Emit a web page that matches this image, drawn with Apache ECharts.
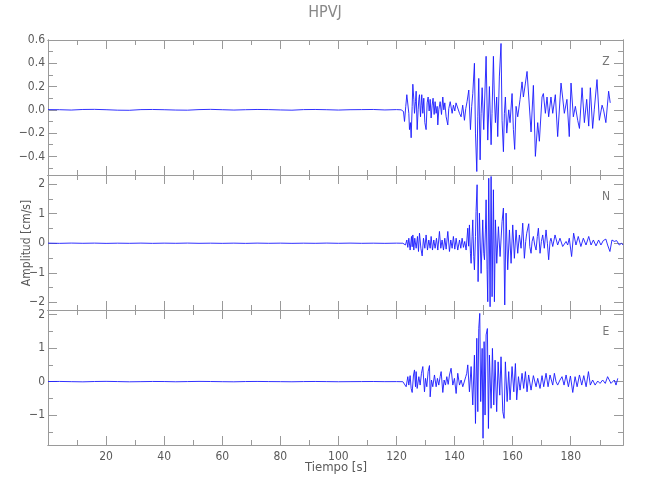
<!DOCTYPE html>
<html><head><meta charset="utf-8">
<script src="https://cdn.jsdelivr.net/npm/echarts@6/dist/echarts.min.js"></script>
<style>html,body{margin:0;padding:0;background:#fff}#c{width:650px;height:500px}</style>
</head><body><div id="c"></div>
<script>
const chartTitle = 'HPVJ';
const yTitle = 'Amplitud [cm/s]';
const xTitle = 'Tiempo [s]';
const panelNames = ['Z', 'N', 'E'];

const quietTime = [0,4,8,12,16,20,24,28,32,36,40,44,48,52,56,60,64,68,72,76,80,84,88,92,96,100,104,108,112,116,120];
const zQuiet = [0.002,0.001,-0.002,0.003,0.004,0.001,-0.003,-0.004,0.002,0.003,0.001,-0.002,-0.003,0.002,0.004,0.001,-0.002,0.001,0.003,0.002,-0.001,-0.003,0.002,0.003,0.001,-0.002,0.001,0.002,0.003,-0.001,0.002];
const nQuiet = [0.003,-0.004,0.005,-0.002,0.004,-0.005,0.002,-0.003,0.004,-0.004,0.003,-0.002,0.005,-0.003,0.002,-0.004,0.003,-0.005,0.004,-0.002,0.003,-0.004,0.002,-0.003,0.005,-0.002,0.004,-0.003,0.002,-0.004,0.003];
const eQuiet = [0.005,0.008,0.002,-0.004,0.006,0.010,0.004,-0.003,0.002,0.007,0.005,-0.002,0.004,0.009,0.006,0.001,-0.003,0.005,0.008,0.004,0.002,-0.002,0.004,0.007,0.003,-0.001,0.002,0.004,0.006,0.002,0.003];

const zTime = [
121.6,121.96,122.4,122.76,123.2,123.56,123.9,124.25,124.48,124.8,
125.05,125.4,125.63,125.97,126.2,126.55,126.77,127.12,127.46,127.7,
127.92,128.27,128.5,128.7,129.07,129.4,129.76,130.2,130.56,130.9,
131.25,131.6,131.93,132.28,132.6,132.97,133.3,133.65,134.0,134.23,
134.57,135.03,135.5,135.95,136.3,136.64,137.1,137.67,138.0,138.5,
139.16,139.6,140.08,140.5,141.1,141.7,142.25,142.8,143.4,143.86,
144.3,144.9,145.47,145.9,146.27,146.84,147.2,147.65,148.0,148.33,
148.8,149.14,149.5,150.05,150.4,150.86,151.43,152.0,152.58,152.9,
153.38,153.7,154.07,154.5,154.87,155.44,156.0,156.36,156.82,157.16,
157.5,157.97,158.65,159.1,159.8,160.26,160.7,161.18,161.75,162.55,
163.24,163.7,164.4,164.96,165.54,166.34,167.14,167.83,168.63,169.2,
170.12,170.58,171.27,171.84,172.4,173.2,173.8,174.7,175.5,176.66,
177.2,177.8,178.7,179.5,180.1,180.9,181.6,182.4,183.0,183.9,
184.7,185.5,186.2,186.75,187.55,188.1,189.05,189.85,190.8,191.3,
192.1,193.05,193.6];
const zAmp = [
0,0.014,-0.014,-0.10,0.03,0.13,0.14,-0.03,-0.17,-0.11,
-0.24,0.03,0.22,0.09,-0.03,0.07,0.16,-0.17,0,0.09,
0.13,-0.06,0.04,0.13,-0.03,0.10,-0.11,-0.17,0.06,0.11,
-0.01,0.09,-0.07,0.04,0.10,-0.04,0.07,-0.03,0.03,-0.13,
0,0.07,-0.04,0.11,0,0.06,-0.06,-0.13,0.01,0.07,
-0.03,0.04,-0.01,0.06,0.07,-0.03,-0.06,0.04,-0.09,0.01,
0.07,0.17,-0.17,0.03,0.14,0.40,-0.20,-0.53,-0.06,0.27,
-0.43,-0.03,0.19,-0.17,0.11,0.46,-0.26,0.20,-0.30,-0.03,
0.46,0.11,-0.11,0.11,-0.23,0.29,0.57,-0.09,-0.36,-0.03,
0.11,-0.20,0,-0.11,0.14,-0.17,-0.34,0.03,-0.06,0.09,
0.24,0.11,0.23,0.33,0.11,-0.19,0.21,-0.40,-0.11,-0.27,
0.11,0.14,-0.03,0.11,-0.06,0.11,-0.03,0.13,-0.23,0.23,
0.11,-0.03,0.09,-0.23,0.23,-0.06,0.03,-0.09,-0.16,0.19,
-0.11,0.09,-0.14,0.19,-0.16,0,0.26,-0.09,0.04,0,
-0.11,0.16,0.06];

const nTime = [
122.2,122.76,123.1,123.56,123.9,124.25,124.7,125.17,125.4,125.63,
125.97,126.3,126.77,127.23,127.58,127.92,128.4,128.84,129.3,129.76,
130.2,130.67,131.13,131.6,131.93,132.4,132.85,133.3,133.77,134.23,
134.8,135.26,135.7,136.18,136.64,137.1,137.67,138.24,138.7,139.16,
139.6,140.08,140.54,141.1,141.7,142.15,142.6,143.06,143.5,143.98,
144.55,144.85,145.12,145.47,145.7,146.04,146.27,146.6,146.84,147.2,
147.4,147.76,148.1,148.56,149.14,149.7,150.05,150.3,150.63,150.86,
151.2,151.43,151.77,152.23,152.58,152.92,153.38,153.72,154.07,154.53,
155.1,155.67,156.36,156.82,157.28,157.74,158.3,158.9,159.46,160.03,
160.6,161.18,161.75,162.32,162.9,163.47,164.04,164.5,164.85,165.54,
165.9,166.34,166.7,167.14,167.6,168.06,168.5,168.86,169.43,169.9,
170.35,170.9,171.5,171.96,172.4,172.87,173.2,173.8,174.6,175.5,
176.3,177.23,178.4,178.95,179.5,180.3,181.0,181.8,182.6,183.5,
184.34,185.26,186.2,187.0,187.8,188.7,189.6,190.4,191.2,192.1,
192.7,193.5,194.2,195.0,195.8,196.7,197.5,198.0];
const nAmp = [
0,0.06,-0.06,0.11,-0.14,0.17,-0.23,0.23,-0.12,0.28,
-0.23,0.17,-0.17,0.23,-0.28,0.34,-0.17,-0.43,0.17,-0.17,
0.28,-0.23,0.11,-0.17,0.23,-0.23,0.11,-0.17,0.17,-0.23,
0.40,-0.17,0.11,-0.23,0.17,-0.20,0.40,-0.28,0.11,-0.17,
0.23,-0.20,0.17,-0.23,0.11,-0.17,0.17,-0.14,0.06,-0.23,
0.51,-0.10,0.62,-0.34,-0.68,0.23,0.79,-0.45,-0.90,0.23,
1.07,1.98,-1.30,1.02,-1.02,0.79,-0.34,-0.56,0.45,1.47,
-0.90,-1.98,2.20,-2.15,2.26,-1.81,1.81,-1.98,0.79,-0.68,
0.56,-0.45,0.73,1.19,-2.09,1.02,-0.90,0.45,-0.68,0.62,
-0.51,0.45,-0.34,0.28,-0.17,0.68,-0.51,0.06,0.34,0.66,
-0.11,-0.34,0.06,0.23,-0.06,-0.23,0.23,0.51,-0.34,0.06,
0.28,-0.17,0.45,0,-0.56,0.06,0.17,-0.11,0.28,-0.06,
0.17,-0.11,0.06,-0.06,0.17,-0.45,0.34,-0.06,0.23,-0.11,
0.17,-0.06,0.23,-0.06,0.11,-0.09,0.11,-0.06,0.09,0.14,
-0.06,-0.28,0.11,0.06,0.09,-0.06,0,-0.06];

const eTime = [
122.2,122.76,123.33,123.9,124.25,124.7,125.05,125.4,125.86,126.2,
126.55,126.77,127.12,127.35,127.7,128.15,128.6,129.07,129.64,130.0,
130.44,130.9,131.36,131.6,132.05,132.5,133.08,133.65,134.1,134.57,
135.03,135.38,135.95,136.4,136.87,137.33,137.8,138.24,138.8,139.4,
139.96,140.54,141.1,141.7,142.25,142.83,143.4,143.86,144.2,144.55,
145.12,145.7,146.27,146.84,147.2,147.65,148.0,148.33,148.68,149.0,
149.5,149.8,150.17,150.5,150.86,151.3,151.66,152.0,152.58,153.04,
153.5,153.95,154.5,155.0,155.56,156.0,156.6,157.05,157.5,158.1,
158.65,159.1,159.8,160.4,160.95,161.4,162.0,162.55,163.24,163.8,
164.4,164.96,165.5,166.34,167.14,168.06,168.63,169.43,170.12,170.7,
171.5,172.2,172.87,173.8,174.37,174.94,175.5,176.3,177.0,177.7,
178.4,179.2,179.9,180.7,181.5,182.2,183.0,183.8,184.5,185.3,
186.1,186.75,187.55,188.4,189.3,190.1,191.0,191.9,192.7,193.3,
193.86,194.4,195.0,195.6,196.2];
const eAmp = [
0,0.02,-0.15,0.15,-0.10,0.18,-0.20,-0.32,0.20,0.35,
-0.15,0.30,-0.20,-0.25,0.15,-0.10,0.25,0.45,-0.30,0.10,
-0.15,0.30,0.48,-0.45,0.05,-0.15,0.20,-0.15,0.10,-0.10,
0.15,0.30,-0.32,0.05,-0.10,0.15,-0.08,0.20,0.40,-0.10,
0.10,-0.35,0.25,-0.10,0.05,-0.15,-0.10,0.15,0.25,0.50,
-0.30,0.45,-0.69,0.79,-1.24,1.29,-0.89,1.58,2.03,-0.59,
0.99,-1.68,1.19,-0.99,1.39,1.58,-1.39,0.79,-0.79,0.99,
-0.69,0.64,-0.89,0.59,-0.40,0.74,-0.89,-1.09,0.59,-0.59,
0.30,-0.54,0.45,-0.30,0.54,-0.54,0.15,-0.25,0.25,-0.20,
0.30,-0.30,0.20,-0.25,0.18,-0.15,0.10,-0.20,0.18,-0.15,
0.25,-0.15,0.20,-0.10,0.25,0,-0.10,0.05,0.15,-0.10,
0.20,-0.15,0.17,-0.32,0.15,-0.15,0.20,-0.10,0.18,-0.15,
0.30,-0.10,0.05,-0.10,0.02,-0.05,0.05,-0.05,0.15,0.20,
-0.05,-0.10,0.05,-0.10,0.10];

const xRange = [0, 198];
const xMajorTicks = [20,40,60,80,100,120,140,160,180];
const xMinorTicks = [10,30,50,70,90,110,130,150,170,190];
const yRanges = [[-0.56, 0.6], [-2.26, 2.31], [-1.88, 2.13]];
const yMajorTicks = [[-0.4,-0.2,0,0.2,0.4,0.6], [-2,-1,0,1,2], [-1,0,1,2]];
const yMinorTicks = [[-0.5,-0.3,-0.1,0.1,0.3,0.5], [-1.5,-0.5,0.5,1.5], [-1.5,-0.5,0.5,1.5]];
const yDecimals = [1, 0, 0];

const axisColor = '#9a9a9a';
const textColor = '#5a5a5a';
const fontFam = "'Liberation Sans Narrow','DejaVu Sans Condensed','Roboto Condensed',Roboto,sans-serif";

function buildData(qv, t, a) {
  const d = quietTime.map((x, i) => [x, qv[i]]);
  t.forEach((x, i) => d.push([x, a[i]]));
  return d;
}
const channels = [buildData(zQuiet, zTime, zAmp), buildData(nQuiet, nTime, nAmp), buildData(eQuiet, eTime, eAmp)];

const grids = [], xAxes = [], yAxes = [], series = [];
for (let g = 0; g < 3; g++) {
  grids.push({left: 48, top: 40 + 135 * g, width: 575, height: 135});
  const xDefs = [['bottom', xMajorTicks, 9, g === 2], ['bottom', xMinorTicks, 5, false], ['top', xMajorTicks, 9, false], ['top', xMinorTicks, 5, false]];
  xDefs.forEach(([pos, ticks, len, lab]) => {
    xAxes.push({
      type: 'value', gridIndex: g, position: pos, min: xRange[0], max: xRange[1],
      axisLine: {show: true, onZero: false, lineStyle: {color: axisColor, width: 1}},
      axisTick: {show: true, inside: true, length: len, customValues: ticks, lineStyle: {color: axisColor}},
      axisLabel: {show: lab, customValues: ticks, color: textColor, fontSize: 12, fontFamily: fontFam, margin: 6},
      splitLine: {show: false}
    });
  });
  const yDefs = [['left', yMajorTicks[g], 9, true], ['left', yMinorTicks[g], 5, false], ['right', yMajorTicks[g], 9, false], ['right', yMinorTicks[g], 5, false]];
  yDefs.forEach(([pos, ticks, len, lab]) => {
    yAxes.push({
      type: 'value', gridIndex: g, position: pos, min: yRanges[g][0], max: yRanges[g][1],
      axisLine: {show: true, onZero: false, lineStyle: {color: axisColor, width: 1}},
      axisTick: {show: true, inside: true, length: len, customValues: ticks, lineStyle: {color: axisColor}},
      axisLabel: {show: lab, customValues: ticks, color: textColor, fontSize: 12, fontFamily: fontFam, margin: 3,
        formatter: v => { const s = Number(v).toFixed(yDecimals[g]); return s.charAt(0) === '-' ? '\u2212' + s.slice(1) : s; }},
      splitLine: {show: false}
    });
  });
  series.push({
    type: 'line', xAxisIndex: 4 * g, yAxisIndex: 4 * g, data: channels[g],
    showSymbol: false, symbol: 'none', clip: true,
    lineStyle: {color: '#1a1aff', width: 0.9}
  });
}

const graphics = [
  {type: 'text', left: 'center', top: 5, style: {text: chartTitle, fill: '#888', font: '16px ' + fontFam}},
  {type: 'text', x: 336, y: 468, style: {text: xTitle, fill: textColor, font: '13px ' + fontFam, align: 'center', verticalAlign: 'middle'}},
  {type: 'text', x: 27, y: 243, rotation: Math.PI / 2, style: {text: yTitle, fill: textColor, font: '12px ' + fontFam, align: 'center', verticalAlign: 'middle'}}
];
panelNames.forEach((n, i) => graphics.push({type: 'text', x: 606, y: 62 + 135 * i, style: {text: n, fill: '#777', font: '12px ' + fontFam, align: 'center', verticalAlign: 'middle'}}));

const chart = echarts.init(document.getElementById('c'), null, {renderer: 'canvas'});
chart.setOption({
  animation: false,
  backgroundColor: '#fff',
  grid: grids, xAxis: xAxes, yAxis: yAxes, series: series,
  graphic: graphics
});
</script></body></html>
